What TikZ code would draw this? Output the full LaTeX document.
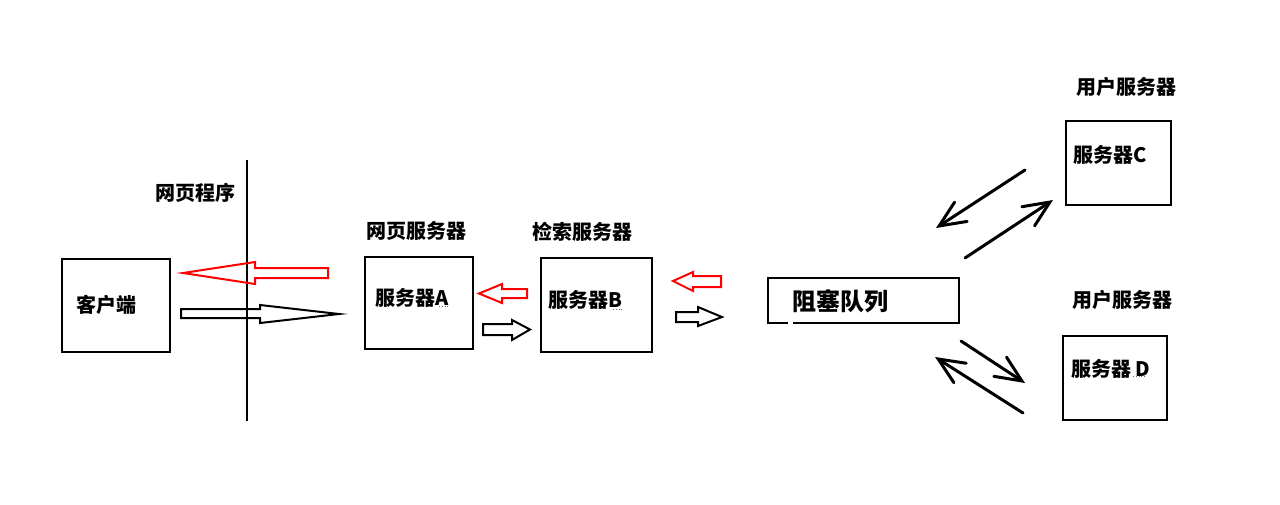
\documentclass[tikz,border=0pt]{standalone}
\usepackage{fontspec}
\newfontfamily\cjk{Noto Sans CJK SC}
\usetikzlibrary{arrows.meta,calc}
\tikzset{
  box/.style={draw=black,line width=2pt,inner sep=0pt},
  lbl/.style={inner sep=0pt,anchor=base west,font=\cjk\bfseries\fontsize{20}{24}\selectfont},
  big/.style={inner sep=0pt,anchor=base west,font=\cjk\bfseries\fontsize{24}{28}\selectfont},
  redarrow/.style={draw=red,line width=2pt,line join=miter},
  blackarrow/.style={draw=black,line width=2pt,line join=miter},
  diag/.style={draw=black,line width=3pt,line cap=round,-{Straight Barb[length=26pt,width=23pt,line cap=round]}},
  spell/.style={draw=black!60,line width=0.8pt,dotted}
}
\begin{document}
\begin{tikzpicture}[x=1pt,y=-1pt]
\useasboundingbox[fill=white] (0,0) rectangle (1280,504);

% divider line
\coordinate (vtop) at (247,160);
\coordinate (vbot) at (247,421);
\draw[line width=2.5pt] (vtop) -- (vbot);
\node[lbl] (lweb) at (155,200.6) {网页程序};

% boxes
\node[box,minimum width=108pt,minimum height=93pt] (client) at (116,305.5) {};
\node[lbl] (tclient) at (76,312.6) {客户端};

\node[box,minimum width=108pt,minimum height=92pt] (sa) at (419,303) {};
\node[lbl] (la) at (366,238.3) {网页服务器};
\node[lbl] (ta) at (375,305) {服务器A};

\node[box,minimum width=111pt,minimum height=94pt] (sb) at (596.5,305) {};
\node[lbl] (lb) at (532,239.3) {检索服务器};
\node[lbl] (tb) at (548,307.6) {服务器B};

\node[box,minimum width=105pt,minimum height=84pt] (sc) at (1118.5,163) {};
\node[lbl] (lc) at (1076,94.3) {用户服务器};
\node[lbl] (tc) at (1073,162.6) {服务器C};

\node[box,minimum width=104pt,minimum height=84pt] (sd) at (1115,378) {};
\node[lbl] (ld) at (1072,307.6) {用户服务器};
\node[lbl] (td) at (1071,376) {服务器 D};

% queue
\node[inner sep=0pt,minimum width=191pt,minimum height=44.5pt] (queue) at (863.5,300.5) {};
\draw[line width=2pt] ($(queue.south west)+(20,0)$) -- (queue.south west) -- (queue.north west) -- (queue.north east) -- (queue.south east) -- ($(queue.south west)+(25,0)$);
\node[big] (tq) at (792,310.8) {阻塞队列};

% spelling underlines
\draw[spell] (439,306.5) -- (449,306.5);
\draw[spell] (613,309) -- (623,309);
\draw[spell] (1133,376.5) -- (1146,376.5);

% hollow block arrows
\draw[redarrow] (328,268) -- (255,268) -- (255,262) -- (183,273) -- (255,284) -- (255,278) -- (328,278) -- cycle;
\draw[blackarrow] (181,309) -- (260,309) -- (260,305) -- (339,314) -- (260,323) -- (260,318) -- (181,318) -- cycle;

\draw[redarrow] (527,289) -- (502,289) -- (502,284) -- (479,293.5) -- (502,303) -- (502,298) -- (527,298) -- cycle;
\draw[blackarrow] (483,324) -- (512,324) -- (512,320) -- (530,329.5) -- (512,340) -- (512,335) -- (483,335) -- cycle;

\draw[redarrow] (721,276) -- (693,276) -- (693,272) -- (673,281) -- (693,291) -- (693,287) -- (721,287) -- cycle;
\draw[blackarrow] (676,312) -- (698,312) -- (698,307) -- (722,317) -- (698,326) -- (698,322) -- (676,322) -- cycle;

% diagonal arrows
\coordinate (c1s) at (1025,170);
\coordinate (c1e) at (936,228);
\coordinate (c2s) at (965,258);
\coordinate (c2e) at (1053,200);
\coordinate (d1s) at (961,341);
\coordinate (d1e) at (1025,383);
\coordinate (d2s) at (1023,413);
\coordinate (d2e) at (935,357);
\draw[diag] (c1s) -- (c1e);
\draw[diag] (c2s) -- (c2e);
\draw[diag] (d1s) -- (d1e);
\draw[diag] (d2s) -- (d2e);
\end{tikzpicture}
\end{document}
